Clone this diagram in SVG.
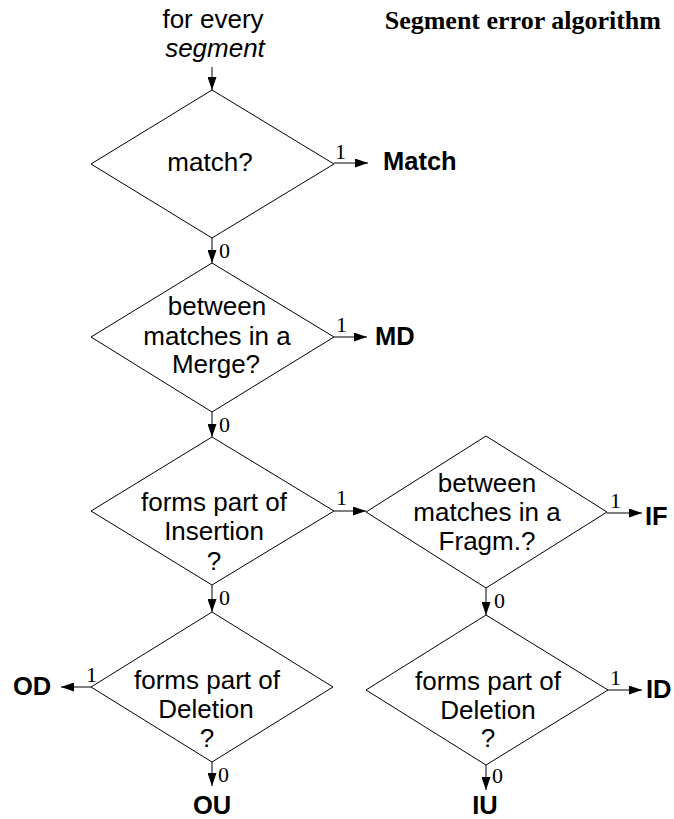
<svg xmlns="http://www.w3.org/2000/svg" width="674" height="819" viewBox="0 0 674 819">
  <style>
    .box { fill: #fff; stroke: #000; stroke-width: 1; }
    .q { font-family: "Liberation Sans", Arial, sans-serif; font-size: 26px; text-anchor: middle; fill: #000; }
    .out { font-family: "Liberation Sans", Arial, sans-serif; font-size: 25.5px; font-weight: bold; fill: #000; }
    .bit { font-family: "Liberation Serif", "Times New Roman", serif; font-size: 22px; fill: #000; }
    .title { font-family: "Liberation Serif", "Times New Roman", serif; font-size: 26px; font-weight: bold; text-anchor: end; fill: #000; }
    .edge { stroke: #000; stroke-width: 1; fill: none; marker-end: url(#arrow); }
  </style>
  <defs>
    <marker id="arrow" markerUnits="userSpaceOnUse" markerWidth="13" markerHeight="9" refX="13" refY="4.5" orient="auto">
      <path d="M0,0 L13,4.5 L0,9 z" fill="#000"/>
    </marker>
  </defs>

  <rect width="674" height="819" fill="#fff"/>

  <text class="title" x="661" y="29">Segment error algorithm</text>

  <g id="start">
    <text class="q" x="213" y="28">for every</text>
    <text class="q" x="215" y="57" font-style="italic">segment</text>
  </g>

  <g id="match">
    <polygon class="box" points="212,90 334,164 212,238 91,164"/>
    <text class="q" x="210" y="171">match?</text>
  </g>

  <g id="merge">
    <polygon class="box" points="212,263 334,337 212,412 91,337"/>
    <text class="q" x="217" y="315">between</text>
    <text class="q" x="217" y="345">matches in a</text>
    <text class="q" x="216" y="373">Merge?</text>
  </g>

  <g id="insertion">
    <polygon class="box" points="212,437 334,511 212,585 91,511"/>
    <text class="q" x="214" y="511">forms part of</text>
    <text class="q" x="214" y="540">Insertion</text>
    <text class="q" x="214" y="570">?</text>
  </g>

  <g id="fragm">
    <polygon class="box" points="486,436 607,512 486,588 366,512"/>
    <text class="q" x="487" y="492">between</text>
    <text class="q" x="487" y="521">matches in a</text>
    <text class="q" x="487" y="550">Fragm.?</text>
  </g>

  <g id="deletion-left">
    <polygon class="box" points="212,612 333,687 212,762 91,687"/>
    <text class="q" x="207" y="689">forms part of</text>
    <text class="q" x="206" y="718">Deletion</text>
    <text class="q" x="207" y="747">?</text>
  </g>

  <g id="deletion-right">
    <polygon class="box" points="486,615 608,690 486,765 366,690"/>
    <text class="q" x="488" y="690">forms part of</text>
    <text class="q" x="488" y="719">Deletion</text>
    <text class="q" x="488" y="747">?</text>
  </g>

  <g id="results">
    <text class="out" x="383" y="170">Match</text>
    <text class="out" x="375" y="345">MD</text>
    <text class="out" x="645" y="525">IF</text>
    <text class="out" x="646" y="698">ID</text>
    <text class="out" x="13" y="695">OD</text>
    <text class="out" x="212" y="814" text-anchor="middle">OU</text>
    <text class="out" x="485" y="814" text-anchor="middle">IU</text>
  </g>

  <g id="connectors">
    <line class="edge" x1="212" y1="67" x2="212" y2="90"/>
    <line class="edge" x1="334" y1="163" x2="368" y2="163"/>
    <line class="edge" x1="212" y1="238" x2="212" y2="263"/>
    <line class="edge" x1="334" y1="337" x2="367" y2="337"/>
    <line class="edge" x1="212" y1="412" x2="212" y2="437"/>
    <line class="edge" x1="334" y1="511" x2="366" y2="511"/>
    <line class="edge" x1="607" y1="513" x2="642" y2="513"/>
    <line class="edge" x1="486" y1="588" x2="486" y2="615"/>
    <line class="edge" x1="608" y1="690" x2="642" y2="690"/>
    <line class="edge" x1="212" y1="585" x2="212" y2="612"/>
    <line class="edge" x1="91" y1="687" x2="61" y2="687"/>
    <line class="edge" x1="212" y1="762" x2="212" y2="786"/>
    <line class="edge" x1="486" y1="765" x2="486" y2="790"/>

    <text class="bit" x="335" y="159">1</text>
    <text class="bit" x="336" y="332">1</text>
    <text class="bit" x="336" y="505">1</text>
    <text class="bit" x="610" y="508">1</text>
    <text class="bit" x="610" y="685">1</text>
    <text class="bit" x="86" y="682">1</text>

    <text class="bit" x="219" y="258">0</text>
    <text class="bit" x="219" y="432">0</text>
    <text class="bit" x="219" y="605">0</text>
    <text class="bit" x="494" y="608">0</text>
    <text class="bit" x="218" y="782">0</text>
    <text class="bit" x="492" y="783">0</text>
  </g>
</svg>
